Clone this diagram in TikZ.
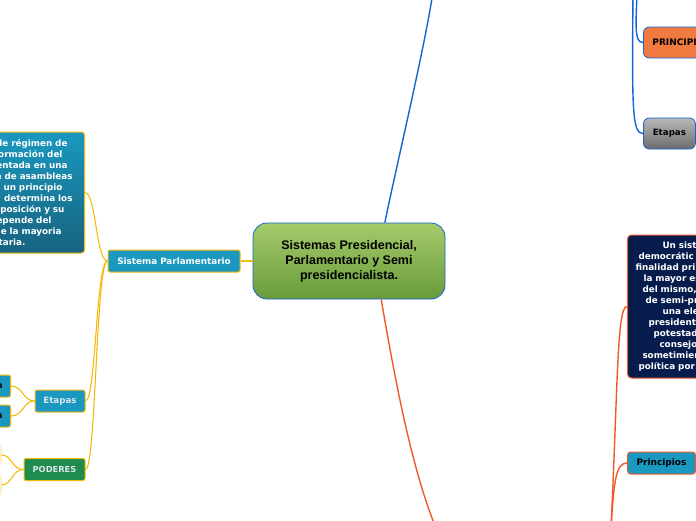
\documentclass[tikz,border=0pt]{standalone}
\usepackage{fontspec}
\setmainfont{DejaVu Sans}
\newfontfamily\rootfont{Liberation Sans}
\usetikzlibrary{positioning}
\definecolor{mapYellow}{HTML}{F5BA0F}
\definecolor{mapTeal}{HTML}{1A98C0}
\definecolor{mapTealDeep}{HTML}{17637E}
\definecolor{mapBlue}{HTML}{1464D6}
\definecolor{mapOrange}{HTML}{F0582A}
\definecolor{mapNavy}{HTML}{061C4C}
\definecolor{mapLeaf}{HTML}{A5CB6B}
\definecolor{mapLeafDeep}{HTML}{699B3A}
\definecolor{mapForest}{HTML}{1F8B4C}
\definecolor{mapCoral}{HTML}{F07A40}
\definecolor{mapCream}{HTML}{FFF4D2}
\definecolor{mapPale}{HTML}{DDE6EC}
\definecolor{mapSilver}{HTML}{B8B8B8}
\definecolor{mapSteel}{HTML}{6C6C6C}
\newcommand\gap[1]{\rule{#1pt}{0pt}}

\begin{document}
\begin{tikzpicture}[x=1pt,y=-1pt,
  topic/.style={draw=mapYellow,line width=1pt,rounded corners=2pt,inner ysep=0pt,minimum height=22pt},
  bubble/.style={draw=mapBlue,line width=0.8pt,rounded corners=6pt,inner ysep=0pt,minimum height=31pt,anchor=west},
  ylink/.style={mapYellow,line width=1.1pt},
  blink/.style={mapBlue,line width=1.4pt},
  olink/.style={mapOrange,line width=1.4pt}]
  \useasboundingbox (0,0) rectangle (696,520);

  % root
  \node[draw=mapBlue,line width=0.8pt,rounded corners=14pt,top color=mapLeaf,bottom color=mapLeafDeep,
        minimum width=192pt,minimum height=76pt,align=center,
        font=\rootfont\bfseries\fontsize{12.5}{15}\selectfont] (root) at (349,261)
        {Sistemas Presidencial,\\Parlamentario y Semi\\presidencialista.};

  % parlamentario branch
  \node[topic,fill=mapTeal,text=white,minimum width=132pt,
        font=\bfseries\fontsize{8.8}{10}\selectfont] (parl) at (174,261) {Sistema Parlamentario};
  \node[draw=mapYellow,line width=1pt,rounded corners=3pt,top color=mapTeal,bottom color=mapTealDeep,
        text=white,text width=121pt,inner xsep=12pt,inner ysep=0pt,minimum height=121pt,
        align=right,anchor=east,font=\bfseries\fontsize{8.8}{11}\selectfont] (parlDef) at (85,192.5)
        {de régimen de\gap{5}\\ormación del\gap{10}\\entada en una\gap{5}\\n de asambleas\\
         un principio\gap{10}\\determina los\\mposición y su\gap{8}\\epende del\gap{21}\\
         e la mayoria\gap{11}\\taria.\gap{47}};
  \node[topic,fill=mapTeal,text=mapPale,minimum width=50pt,
        font=\bfseries\fontsize{8.7}{10}\selectfont] (parlEtapas) at (60,401) {Etapas};
  \node[topic,fill=mapTeal,text=black,text width=40pt,inner xsep=8pt,align=right,anchor=east,
        font=\bfseries\fontsize{8.7}{10}\selectfont] (etapaA) at (11,386) {n};
  \node[topic,fill=mapTeal,text=black,text width=40pt,inner xsep=8pt,align=right,anchor=east,
        font=\bfseries\fontsize{8.7}{10}\selectfont] (etapaB) at (11,416) {a};
  \node[topic,fill=mapForest,text=mapPale,minimum width=61pt,
        font=\bfseries\fontsize{8.3}{10}\selectfont] (poderes) at (54.5,469.5) {PODERES};
  \node[draw=mapYellow!40,fill=mapCream,rounded corners=2pt,minimum width=30pt,minimum height=20pt,
        anchor=east] (poderA) at (1.5,455) {};
  \node[draw=mapYellow!40,fill=mapCream,rounded corners=2pt,minimum width=30pt,minimum height=20pt,
        anchor=east] (poderB) at (1.5,485) {};

  % presidencial branch
  \node[bubble,fill=mapCoral,inner xsep=9pt,
        font=\bfseries\fontsize{9}{10}\selectfont] (presPrin) at (643,42.5) {PRINCIPIOS};
  \node[bubble,top color=mapSilver,bottom color=mapSteel,minimum width=52pt,
        font=\bfseries\fontsize{8.7}{10}\selectfont] (presEtapas) at (643,133.5) {Etapas};
  \coordinate (presUp) at (433,-8);
  \coordinate (presSideA) at (637,-8);
  \coordinate (presSideB) at (633,-8);
  \coordinate (presNext) at (712,133.5);

  % semi-presidencial branch
  \node[draw=mapOrange,line width=1pt,rounded corners=4pt,fill=mapNavy,text=white,
        text width=130pt,inner xsep=8pt,inner ysep=0pt,minimum height=143pt,align=left,anchor=west,
        font=\bfseries\fontsize{8.8}{11}\selectfont] (semiDef) at (627,306.5)
        {\gap{27}Un sist\\\gap{3}democrátic\\finalidad pri\\\gap{8}la mayor es\\\gap{7}del mismo,\\
         \gap{10}de semi-pr\\\gap{27}una ele\\\gap{13}president\\\gap{18}potestad\\
         \gap{24}consejo\\\gap{7}sometimien\\\gap{3}política por};
  \node[draw=mapOrange,line width=1pt,rounded corners=3pt,fill=mapTeal,text=black,
        minimum height=22pt,inner xsep=9pt,inner ysep=0pt,anchor=west,
        font=\bfseries\fontsize{9}{10}\selectfont] (semiPrin) at (627,463) {Principios};
  \coordinate (semiDown) at (436,528);
  \coordinate (semiSide) at (611,528);

  % connectors
  \draw[ylink] (root.west) -- (parl.east);
  \draw[ylink] (parl.west) .. controls (96,261) and (96,192.5) .. (parlDef.east);
  \draw[ylink] (parl.west) .. controls (96,261) and (96,401) .. (parlEtapas.east);
  \draw[ylink] (parl.west) .. controls (96,261) and (96,469.5) .. (poderes.east);
  \draw[ylink] (parlEtapas.west) .. controls (23,401) and (23,386) .. (etapaA.east);
  \draw[ylink] (parlEtapas.west) .. controls (23,401) and (23,416) .. (etapaB.east);
  \draw[ylink] (poderes.west) .. controls (12,469.5) and (12,455) .. (poderA.east);
  \draw[ylink] (poderes.west) .. controls (12,469.5) and (12,485) .. (poderB.east);

  \draw[blink] (root.47) .. controls (400,150) and (424,50) .. (presUp);
  \draw[blink] (presSideA) .. controls (636,25) and (634,42.5) .. (presPrin.west);
  \draw[blink] (presSideB) .. controls (632,110) and (632,133.5) .. (presEtapas.west);
  \draw[blink] (presEtapas.east) -- (presNext);

  \draw[olink] (root.-50) .. controls (395,380) and (412,470) .. (semiDown);
  \draw[olink] (semiSide) .. controls (618,380) and (617,306.5) .. (semiDef.west);
  \draw[olink] (semiSide) .. controls (614,480) and (616,463) .. (semiPrin.west);
\end{tikzpicture}
\end{document}
